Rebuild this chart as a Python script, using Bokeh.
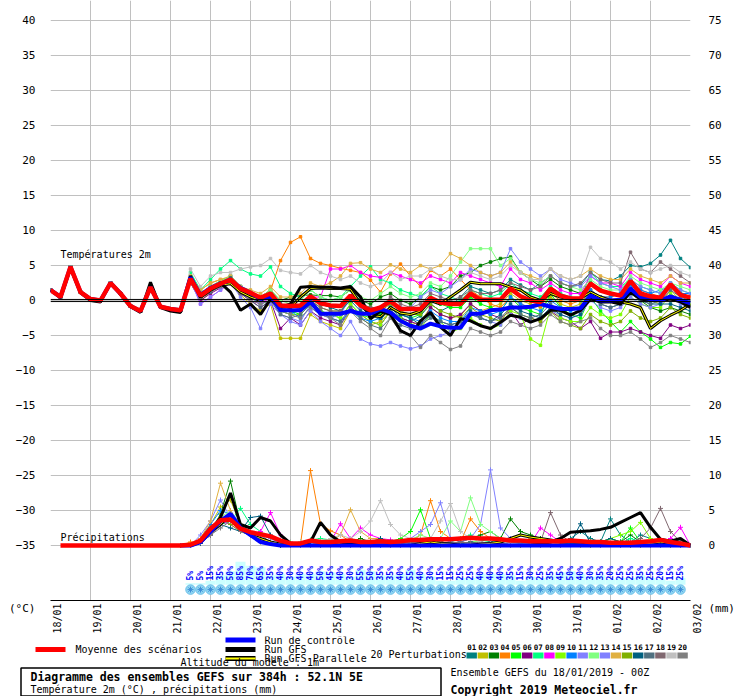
import math
from bokeh.plotting import figure
from bokeh.models import Range1d, LinearAxis, FixedTicker, Span, Label
from bokeh.embed import file_html
from bokeh.resources import INLINE
from bokeh.core.properties import value

FONT = "DejaVu Sans Mono"

# ---------------- data ----------------
DATES = ["18/01", "19/01", "20/01", "21/01", "22/01", "23/01", "24/01", "25/01", "26/01",
         "27/01", "28/01", "29/01", "30/01", "31/01", "01/02", "02/02", "03/02"]
DAY_HOURS = list(range(0, 385, 24))
HOURS = list(range(0, 385, 6))          # 65 six-hourly steps (0h .. 384h)
HOURS_P = HOURS[13:]                    # precipitation members from step 13
HOURS_PCT = HOURS[14:64]                # precipitation probability labels

LEFT_TICKS = list(range(-35, 45, 5))
RIGHT_TICKS = list(range(0, 80, 5))

# temperature, common start (steps 0..13)
T_COMMON = [1.5, 0.5, 4.8, 1.2, 0.2, 0.0, 2.5, 1.0, -0.8, -1.5, 1.9, -0.9, -1.2, -1.4]
T_GFS_START = [1.5, 0.4, 4.6, 1.1, 0.0, -0.2, 2.5, 0.9, -0.9, -1.7, 2.6, -1.0, -1.5, -1.7]

# temperature steps 14..64
T_M01 = [3.5,1.0,2.0,2.6, 3.2,1.5,0.5,-0.5, 0.5,-1.5,-2.0,-1.0, 0.2,-1.5,-2.5,-1.8, 0.5,-1.0,-2.0,-2.8, -1.0,-2.5,-3.0,-2.2, -0.5,-1.5,-0.8,0.5, 2.0,1.5,1.0,1.5, 3.0,2.2,1.5,2.5, 3.5,2.5,2.0,2.2, 4.0,3.0,2.8,3.5, 5.0,4.8,5.3,6.5, 8.6,6.0,4.7]
T_M02 = [2.5,0.0,1.2,2.0, 2.5,0.8,-0.5,-1.5, -0.5,-5.4,-5.4,-5.4, -2.0,-3.0,-3.5,-4.0, -1.5,-2.5,-3.5,-3.0, -1.5,-2.8,-3.5,-3.0, -1.0,-2.0,-2.5,-2.2, -0.5,-1.5,-1.0,-0.5, 1.0,0.0,-0.5,-1.0, 0.5,-0.5,-1.0,-0.5, 1.5,0.5,0.0,-0.5, 1.5,0.5,0.0,-0.5, 1.5,0.0,-1.0]
T_M03 = [3.3,1.0,2.0,2.8, 3.5,2.0,1.0,0.5, 1.5,0.0,0.5,0.7, 0.8,0.7,0.7,0.5, 1.5,0.0,-0.5,0.5, 1.0,0.0,-0.5,0.5, 2.0,1.5,2.0,3.5, 4.0,5.0,5.5,6.0, 6.2,4.0,3.0,2.0, 3.0,2.0,1.5,1.0, 2.5,1.5,1.0,0.8, 2.0,0.0,-1.0,-1.5, -1.0,-1.5,-2.0]
T_M04 = [3.5,1.5,2.5,3.0, 3.2,1.5,0.8,0.2, 1.4,5.7,8.3,9.1, 6.0,5.3,5.0,4.6, 4.3,4.0,2.9,1.2, 3.8,5.2,3.5,2.0, 4.3,3.5,4.5,3.0, 1.5,0.5,-0.5,-1.0, 0.5,-0.5,-1.0,-0.8, 1.0,0.0,-0.5,0.0, 1.5,0.5,0.5,1.0, 2.5,1.5,1.0,0.5, 2.0,1.0,0.5]
T_M05 = [2.8,0.5,1.5,2.0, 2.5,1.0,0.5,-0.5, 0.0,-1.5,-1.5,-2.0, -0.5,-1.5,-2.0,-2.5, -0.5,-2.0,-2.5,-2.0, -1.0,-2.0,-2.5,-2.0, 0.5,-0.5,-1.0,-1.0, 0.5,-0.5,-1.0,-1.5, 0.5,-1.0,-1.5,-2.0, 1.0,-1.0,-2.0,-2.5, 0.5,-1.5,-3.0,-4.5, -3.0,-4.5,-5.5,-6.7, -6.0,-6.2,-5.1]
T_M06 = [2.5,0.0,1.0,1.8, 2.8,1.0,0.0,-1.0, 0.0,-4.0,-2.5,-3.5, -1.5,-2.5,-3.0,-3.5, -1.0,-2.0,-3.0,-3.5, -1.5,-2.5,-3.0,-3.5, -1.0,-2.0,-2.5,-2.0, -0.5,-1.5,-2.0,-2.5, -1.5,-3.5,-2.5,-3.0, -1.5,-2.5,-3.0,-4.0, -3.0,-5.4,-4.5,-4.5, -4.0,-4.5,-5.0,-5.4, -3.5,-4.0,-3.5]
T_M07 = [4.0,1.5,3.0,4.5, 5.7,4.5,3.8,3.5, 4.8,2.0,1.0,0.5, 1.5,0.5,0.0,0.5, 2.0,3.5,4.8,3.0, 2.5,1.5,1.0,0.5, 2.0,1.0,0.5,0.0, 1.5,1.0,0.5,1.0, 2.5,1.5,1.0,0.5, 2.0,1.0,0.5,0.0, 4.0,2.5,2.0,2.0, 3.0,2.0,1.5,1.0, 2.5,1.5,1.0]
T_M08 = [3.0,-0.5,0.5,1.5, 2.5,1.0,0.0,-0.5, 0.5,-1.0,-1.5,-1.0, 0.5,0.5,4.5,4.5, 5.0,4.0,3.5,3.3, 4.0,3.5,3.0,2.5, 3.5,3.0,2.5,4.0, 3.5,3.0,2.5,2.0, 4.5,3.0,2.5,1.5, 2.5,1.5,1.0,1.0, 3.5,2.5,2.5,2.0, 4.0,3.0,2.5,2.0, 3.5,2.5,2.0]
T_M09 = [3.0,0.8,1.8,2.5, 3.0,1.5,0.5,0.0, 0.5,-1.5,-2.0,-2.0, -0.5,-1.5,-2.0,-2.5, -0.5,-2.0,-3.0,-3.5, -1.5,-2.5,-3.5,-4.0, -2.0,-3.0,-4.5,-4.0, -2.5,-3.5,-4.0,-3.5, -1.5,-2.0,-5.5,-6.4, -1.0,-2.5,-3.0,-3.0, -1.0,-2.0,-2.5,-2.0, 0.5,-0.5,-1.0,-1.0, 1.0,0.0,-0.5]
T_M10 = [3.3,0.5,1.5,2.5, 3.5,2.0,1.0,0.0, 0.5,-1.0,-1.5,-2.5, -1.0,-2.0,-2.5,-3.0, -1.5,-2.5,-3.0,-2.5, -1.0,-2.0,-2.5,-3.0, -1.5,-2.5,-3.0,-3.0, -1.0,-1.5,-2.0,-1.5, 0.5,-0.5,-1.0,-1.5, 0.0,-1.0,-1.5,-1.0, 1.5,0.5,0.5,1.0, 2.0,1.5,1.0,1.5, 2.0,1.0,1.0]
T_M11 = [2.8,-0.5,0.5,1.5, 2.5,0.5,-1.0,-4.0, -0.5,-2.0,-3.0,-3.5, -1.5,-3.0,-4.0,-5.0, -3.0,-5.5,-6.2,-6.5, -6.0,-6.5,-6.9,-6.5, -5.5,-5.0,-4.5,-3.5, -2.0,-2.5,-3.0,-3.5, -2.0,-2.5,-3.0,-2.5, -1.5,-2.0,-2.5,-2.0, 0.0,-1.0,-1.5,-1.0, 0.5,-0.5,-1.0,-0.5, 0.5,-0.5,-1.0]
T_M12 = [3.5,1.0,2.0,2.8, 3.5,2.0,1.0,0.5, 1.5,0.0,-0.5,0.0, 1.5,0.5,0.0,0.5, 1.5,0.5,0.0,1.0, 2.0,1.0,0.5,1.0, 2.5,2.0,3.5,5.5, 7.4,7.4,7.4,5.0, 6.0,4.0,3.0,2.5, 3.5,2.5,2.0,1.5, 3.0,2.0,1.5,1.5, 3.5,2.5,2.0,1.5, 2.5,2.0,1.5]
T_M13 = [3.0,0.5,1.5,2.0, 3.0,1.5,0.5,-0.5, 0.0,-2.0,-2.5,-3.0, -0.5,-2.0,-2.5,-2.0, 0.5,-1.0,-1.5,-1.0, 0.0,-1.0,-1.0,0.5, 1.5,1.0,2.0,3.0, 4.5,4.0,3.5,4.0, 7.4,5.5,4.5,3.5, 4.5,3.0,2.5,2.0, 3.5,2.5,2.0,1.5, 3.0,2.0,1.5,1.0, 2.5,1.5,1.0]
T_M14 = [3.5,1.5,2.5,3.0, 3.5,2.0,1.5,1.0, 2.0,0.5,0.5,1.0, 2.5,2.0,2.5,3.5, 5.3,5.4,4.5,4.0, 5.1,4.5,4.0,5.0, 4.5,5.0,6.7,6.0, 5.0,4.0,3.5,4.0, 5.5,4.0,3.5,3.0, 4.5,3.5,3.0,3.5, 4.5,3.5,3.0,3.0, 4.5,3.5,3.0,2.5, 3.5,2.5,2.5]
T_M15 = [3.0,0.5,1.5,2.2, 3.0,1.5,0.5,0.0, 0.5,-1.0,-1.5,-1.5, 0.0,-1.0,-1.5,-1.5, 0.5,-0.5,-1.0,-1.5, -0.5,-1.5,-2.0,-2.0, -0.5,-1.5,-2.0,-2.5, -1.0,-2.0,-2.5,-3.0, -1.0,-2.0,-2.5,-3.0, -1.5,-3.0,-3.5,-4.0, -2.0,-3.0,-3.5,-3.0, -1.5,-2.5,-3.0,-2.5, -1.0,-2.0,-2.5]
T_M16 = [3.2,0.8,1.8,2.5, 3.2,1.5,0.5,0.0, 1.0,-0.5,-1.0,-1.0, 0.5,-0.5,-1.0,-1.5, 0.0,-1.5,-2.0,-2.5, -1.0,-2.0,-2.5,-3.5, -2.0,-3.0,-3.5,-3.0, -1.5,-2.5,-3.0,-2.0, -0.5,-1.5,-2.0,-2.5, -1.0,-2.0,-2.5,-2.0, 0.5,-0.5,-1.0,-0.5, 1.0,0.0,-0.5,-0.5, -0.5,-1.0,-1.5]
T_M17 = [2.8,0.3,1.2,2.0, 2.8,1.0,0.0,-1.0, 0.0,-2.0,-2.5,-2.0, -0.5,-1.5,-2.5,-3.0, -1.0,-2.5,-3.5,-4.0, -2.5,-3.5,-4.0,-3.5, -2.5,-3.0,-3.5,-3.0, -2.0,-2.5,-3.0,-2.5, -1.0,-2.0,-2.5,-2.0, -0.5,-1.5,-2.0,-1.5, 0.5,-0.5,-1.0,-0.5, 1.0,0.0,-0.5,0.0, 1.5,0.5,0.0]
T_M18 = [3.0,0.5,1.5,2.0, 3.0,1.0,0.5,0.0, 0.5,-1.0,-1.5,-1.5, 0.0,-1.0,-1.5,-1.5, 0.5,-0.5,-1.0,-1.0, 0.5,-0.5,-1.0,-0.5, 1.0,0.5,0.0,0.5, 1.5,1.0,1.0,1.5, 2.5,2.0,1.5,2.0, 3.5,2.5,2.0,2.5, 4.0,3.0,2.5,2.5, 6.9,4.5,4.0,5.5, 4.5,3.5,2.5]
T_M19 = [4.5,2.0,3.5,4.0, 4.0,4.5,4.8,5.0, 6.0,4.3,4.0,3.8, 5.0,4.0,3.5,3.0, 3.5,2.5,2.0,2.5, 4.0,3.0,3.5,3.5, 4.5,3.5,3.0,3.0, 4.0,3.5,3.0,3.5, 5.0,4.0,3.0,3.0, 4.5,3.5,3.0,3.5, 7.6,6.0,5.5,4.5, 5.5,4.5,4.0,4.5, 5.0,4.0,3.5]
T_M20 = [3.0,0.5,1.5,2.2, 2.8,1.2,0.0,-0.5, 0.0,-1.5,-2.0,-2.5, -1.0,-2.0,-2.5,-3.5, -1.5,-3.0,-4.0,-5.0, -2.5,-4.5,-5.0,-6.7, -5.0,-6.0,-7.0,-6.5, -4.0,-4.5,-5.0,-4.5, -3.0,-3.5,-4.0,-3.5, -2.0,-3.0,-3.5,-3.0, -2.5,-4.0,-5.0,-5.0, -4.5,-5.5,-6.7,-6.0, -5.0,-5.5,-6.0]

T_CTRL = [3.3,0.8,1.8,2.4, 2.9,1.8,1.1,0.2, 0.7,-1.4,-1.4,-1.4, -0.2,-1.9,-1.9,-1.9, -1.5,-1.9,-1.9,-1.2, -1.7,-2.9,-3.6,-4.0, -3.3,-3.7,-3.9,-3.9, -1.9,-1.9,-1.4,-1.3, -1.0,-1.0,-0.9,-0.5, -0.9,-1.2,-1.2,-1.1, 0.7,0.0,0.0,0.1, 1.7,0.5,0.2,0.0, 0.6,0.1,-0.4]
T_GFS = [3.5,0.5,1.5,2.5, 1.2,-1.4,-0.5,-2.0, 0.2,-1.0,-0.5,1.9, 2.0,1.9,1.9,1.8, 2.0,0.5,-2.6,-1.5, -2.0,-4.3,-5.0,-2.9, -1.7,-3.8,-5.0,-2.6, -2.9,-3.6,-4.0,-3.1, -2.1,-2.4,-3.1,-2.6, -1.4,-1.4,-2.1,-1.4, 0.2,-0.2,-0.2,-0.5, 1.2,0.2,0.0,0.0, 0.2,-0.2,-1.0]
T_PARA = [3.2,0.5,1.5,2.2, 2.4,1.2,0.5,0.0, 0.8,-0.8,-1.0,0.5, 1.7,1.8,1.7,1.7, 1.6,-0.5,-2.1,-2.3, -1.0,-1.8,-2.0,-1.5, 0.0,-0.5,0.5,1.5, 2.6,2.4,2.4,2.4, 1.9,1.5,0.5,0.0, 1.0,0.5,0.2,0.3, 1.2,0.5,0.0,-0.2, -0.5,-1.0,-4.0,-2.9, -2.1,-1.4,-0.5]
T_MEAN = [3.1,0.7,1.7,2.4, 3.0,1.7,1.1,0.4, 1.0,-0.7,-0.8,-0.7, 0.6,-0.4,-0.7,-0.8, 0.7,-0.7,-1.4,-1.0, -0.1,-1.2,-1.2,-1.2, 0.4,-0.3,-0.5,-0.5, 1.0,0.1,0.1,0.1, 1.7,0.6,0.0,-0.2, 1.7,0.7,0.3,0.3, 2.4,1.4,1.0,0.7, 2.8,1.0,0.6,0.4, 2.3,0.8,0.4]

# precipitation (mm / 6h), steps 13..64
P_M01 = [0,0,0.5,2.0,3.5,4.0,2.0,1.5,1.0,0.5, 0.3,0,0,0.2,0.3,0,0,0,0.3,0, 0.5,0.3,0,0.2,0.5,1.0,0.5,0.2,0,0.5, 0.3,0.2,0,0.3,0.5,0.2,0,0.3,0.5,1.0, 2.0,1.0,0.5,3.8,1.5,0.5,1.5,1.0,0.5,0.3, 0.2,0]
P_M02 = [0,0,1.0,3.0,5.5,6.5,3.0,2.0,1.0,0.5, 0.2,0,0,0,0,0.2,0,0,0,0, 0,0,0,0,0,0.2,0.5,0.3,0,0, 0,0.2,0,0,0.2,0,0,0,0,0, 0,0,0,0.2,0,0,0,0.5,0.3,0.2, 0,0]
P_M03 = [0,0,0.5,2.0,4.5,9.2,3.0,1.5,1.0,0.5, 0,0.3,0,0.5,0.2,0.3,0.5,0.5,1.0,0.5, 0.3,0.5,0.2,0.5,0.8,1.0,0.5,0.3,0.5,1.0, 1.5,2.0,1.0,3.8,2.0,1.5,1.0,0.5,0.5,0.3, 0.5,0.2,0.5,1.0,0.5,1.5,0.5,0.3,0.2,0.3, 0.2,0]
P_M04 = [0,0.5,0.3,1.5,3.0,4.5,3.0,2.0,1.0,0.5, 0.2,0,0.2,10.7,3.1,2.1,1.5,0.5,0.3,0.5, 0.5,0.3,0.5,0.5,1.5,6.4,2.0,1.0,0.5,3.8, 2.0,1.0,1.0,0.5,0.5,1.0,0.5,0.3,0.2,0.5, 0.3,0.5,0.3,0.5,0.2,0,0.3,0,0.2,0, 0,0]
P_M05 = [0,0,0.5,2.5,4.0,3.5,2.0,1.5,1.0,0.5, 0.2,0,0,0.3,0.2,0,0.5,0.3,0.2,0, 0.2,0.5,1.0,2.0,5.1,1.0,0.5,0.3,0.2,0.5, 0.5,0.3,0.2,0.5,0.3,0.2,0.3,0.5,0.5,0.3, 0.5,0.3,0.2,1.0,0.5,2.5,0.5,0.3,0.2,0.2, 0,0]
P_M06 = [0,0,0.3,1.5,3.0,3.5,2.5,1.5,1.0,0.5, 0.2,0,0,0,0,0,0.2,0,0,0, 0,0,0,0.3,0.5,0.3,0.2,0,0,0.2, 0.5,0.3,0.2,0.5,0.3,1.0,0.5,0.2,0,0, 0.3,0.2,0,0.5,0.3,0.2,0.3,0.5,0.2,0, 0,0]
P_M07 = [0,0,0.5,2.0,3.0,3.5,5.3,3.0,2.0,1.0, 0.5,0.3,0.5,0.8,1.0,0.8,0.5,0.5,0.3,0.5, 0.3,0.2,0.3,0.5,0.5,0.3,0.2,0.5,1.0,1.5, 0.8,0.5,0.5,0.3,0.5,0.3,0.5,0.3,0.2,0.3, 0.5,0.3,0.2,0.5,0.3,1.0,0.5,0.3,0.2,0.2, 0.2,0]
P_M08 = [0,0,0.3,1.5,3.5,3.0,2.0,1.5,2.0,4.7, 1.5,0.5,0.3,0.2,0.3,0.5,3.1,1.0,2.5,1.5, 1.0,0.8,0.5,0.3,0.2,0.5,0.3,0.2,0.5,0.3, 0.2,0.3,0.5,0.3,0.5,0.3,2.5,1.5,0.5,0.3, 0.5,0.3,0.2,0.5,0.3,0.2,0.5,0.3,0.5,1.0, 2.6,0]
P_M09 = [0,0,0.5,2.0,3.5,4.0,2.5,1.5,1.0,0.5, 0.3,0,0,0.2,0,0,0,0.2,0,0, 0,0.2,0.3,0.5,0.2,0.3,0.5,0.3,0.2,0.5, 0.3,0.2,0.5,0.3,0.2,0.5,0.3,0.5,0.3,0.3, 0.3,0.5,0.5,1.0,1.5,2.0,3.3,1.0,0.5,0.3, 0.2,0]
P_M10 = [0,0,1.0,3.0,5.0,4.5,2.5,2.0,1.0,0.5, 0.2,0,0,0,0.2,0,0,0,0,0.2, 0,0,0.2,0,0,0.3,0.2,0,0,0.2, 0.3,0,0,0.2,0,0,0.2,0,0,0.3, 0.2,0,0,0.2,0.3,0,0,0.2,0,0, 0,0]
P_M11 = [0,0,1.5,3.5,6.5,4.0,2.5,1.5,1.0,0.5, 0.3,0,0,0,0,0.2,0,0,0.3,0.5, 0.5,0.3,0.5,1.0,2.0,3.0,6.1,1.0,0.5,1.0, 3.0,10.8,2.5,1.0,0.5,0.3,0.2,0.5,0.3,0.2, 0.5,0.3,0.2,0.5,0.3,0.2,0.5,0.3,0.2,0, 0,0]
P_M12 = [0,0,0.5,2.0,4.0,5.0,3.0,2.0,1.0,0.5, 0.3,0.5,0.2,0.3,0.5,0.8,0.5,0.3,0.5,0.3, 0.5,0.3,0.5,0.8,1.5,1.0,1.0,3.5,2.0,6.8, 3.0,2.0,1.0,0.5,0.3,0.5,0.3,0.2,0.5,0.3, 0.5,0.3,0.2,0.5,0.3,0.2,0.5,0.3,0.2,0.5, 0.3,0]
P_M13 = [0,0,0.5,2.0,3.0,5.0,3.0,2.0,1.5,1.0, 0.3,0,0,0.2,0,0,0,0.2,0.3,0.2, 0.3,0.5,0.2,0.5,0.3,0.5,1.0,0.5,0.3,0.5, 0.2,0.3,0.5,0.3,0.2,0.3,0.5,0.2,0,0, 0.2,0.3,0,0.2,0.5,0.3,0.2,0,0,0, 0,0]
P_M14 = [0,0,1.0,3.5,8.9,5.0,2.5,1.5,1.0,0.5, 0.2,0,0,0.3,0.5,0.5,1.5,5.1,2.0,1.0, 1.0,0.5,0.3,0.2,0.5,0.3,0.5,0.3,0.2,0.5, 0.3,0.5,0.3,0.2,0.5,1.0,0.5,0.3,0.2,0.3, 0.2,0,0.3,0.2,0,0.3,0.2,0,0.3,0.2, 0,0]
P_M15 = [0,0,0.5,2.5,4.0,3.0,2.0,1.5,0.5,0.3, 0.2,0,0,0,0,0,0,0.2,0,0, 0.2,0,0,0.2,0,0.3,0,0,0.2,0, 0,0.3,0.2,0,0,0.2,0.3,0,0,0.2, 0.3,0,0.2,0.5,0.3,0,0,0.2,0,0, 0,0]
P_M16 = [0,0,0.3,1.5,3.0,2.5,2.0,4.0,4.2,1.5, 0.5,0.3,0,0.2,0.3,0.5,0.3,0.2,0.3,0.5, 1.0,0.5,0.3,0.5,0.3,0.2,0.5,0.3,0.2,0.5, 0.3,0.5,0.3,0.2,0.5,0.3,0.2,0.5,0.5,0.3, 3.1,0.3,0.5,1.0,0.5,0.3,0.2,0.5,0.3,0.2, 0,0]
P_M17 = [0,0,0.5,2.0,3.5,4.5,2.5,1.5,1.0,0.5, 0.3,0,0,0.2,0,0.2,0,0,0.2,0, 0.3,0.2,0,0.3,0.5,0.3,0.2,0.3,0.5,0.3, 0.2,0.5,0.3,0.2,0.3,0.5,0.3,0.2,0.5,0.3, 0.5,0.3,0.2,0.5,0.3,0.2,0.3,0.2,0.5,0.3, 0.2,0]
P_M18 = [0,0,0.5,1.5,3.0,4.0,3.0,2.0,1.5,0.5, 0.3,0,0,0.2,0.3,0,0.2,0,0,0.3, 0.2,0.5,0.3,0.5,0.3,0.2,0.5,0.3,0.5,0.3, 0.5,0.3,0.2,0.5,0.3,0.5,0.5,4.7,1.5,0.5, 0.3,0.5,0.3,0.5,0.2,0.5,1.0,2.5,5.3,2.0, 0.5,0]
P_M19 = [0,0,0.5,2.0,3.0,4.0,2.5,2.0,1.0,0.5, 0.3,0.2,0.5,0.3,0.5,1.0,1.5,1.0,2.0,3.5, 6.4,3.0,1.5,1.0,0.5,1.0,3.5,6.0,2.0,1.0, 0.5,0.3,0.5,0.3,0.2,0.5,0.3,0.2,0.5,0.3, 0.5,0.2,0.3,0.5,0.2,0.3,0.2,0.5,0.3,0.2, 0,0]
P_M20 = [0,0,0.5,1.5,2.5,3.5,2.0,1.5,1.0,0.5, 0.2,0,0,0,0.2,0,0,0,0,0, 0.2,0,0,0.2,0,0,0.3,0.2,0,0, 0,0.2,0,0,0.3,0.2,0,0,0,0.2, 0.3,0.2,0,0.2,0,0.3,0.2,0,0,0.2, 0,0]

P_CTRL = [0,0,0.5,2.0,3.5,4.5,2.5,1.5,0.5,0.2, 0,0,0,0,0,0,0,0,0,0, 0,0,0,0,0,0,0,0,0,0, 0,0,0,0,0,0,0,0,0,0, 0,0,0,0,0,0,0,0,0,0, 0,0]
P_GFS = [0,0,0.5,2.0,4.0,7.5,3.0,2.5,4.0,3.5, 1.5,0.3,0.2,0.5,3.3,1.5,0.5,0.2,0,0, 0,0,0,0,0,0,0,0,0,0, 0,0,0,0,0,0,0.2,0.5,1.0,1.9, 2.0,2.1,2.3,2.6,3.3,4.0,4.7,2.6,0.9,0.6, 1.0,0]
P_PARA = [0,0,0.5,2.0,3.0,4.5,2.5,1.5,1.0,0.5, 0.2,0,0,0,0,0.5,0.3,0.2,0,0, 0,0,0,0,0.3,0.5,0.3,0.2,0,0, 0.2,0.3,0.5,1.0,1.5,1.2,1.0,0.8,0.5,0.5, 0.5,0.3,0.2,0,0,0,0.2,0.3,0.5,0.3, 0,0]
# ensemble mean precipitation, steps 1..64
P_MEAN = [0,0,0,0,0,0,0,0,0,0,0,0,
          0,0.1,0.7,2.4,3.6,3.7,2.4,1.9,1.6,1.3, 0.7,0.3,0.3,0.7,0.5,0.5,0.6,0.7,0.5,0.5,
          0.6,0.5,0.6,0.8,0.8,0.9,0.9,0.9,1.0,1.1, 1.0,1.0,0.9,0.7,0.7,0.6,0.6,0.6,0.6,0.7,
          0.6,0.5,0.5,0.4,0.4,0.4,0.5,0.6,0.8,0.5, 0.3,0.0]

# probability of precipitation (%)
PCT = [5, 5, 15, 35, 50, 85, 70, 65, 35, 40, 30, 40, 40, 50, 45, 40, 30, 55, 50, 35,
       35, 40, 55, 40, 30, 15, 15, 25, 25, 40, 40, 40, 35, 15, 30, 25, 35, 45, 50, 40,
       30, 35, 20, 25, 25, 35, 25, 20, 15, 25]

MEMBER_IDS = ["01", "02", "03", "04", "05", "06", "07", "08", "09", "10",
              "11", "12", "13", "14", "15", "16", "17", "18", "19", "20"]
MEMBER_COLORS = ["#008080", "#c0c000", "#008000", "#ff8000", "#00ff00", "#800080", "#00ff80",
                 "#ff00ff", "#80ff00", "#0080ff", "#8080ff", "#80ff80", "#8080ff", "#e0b040",
                 "#80b000", "#006080", "#507080", "#806870", "#c0c0c0", "#808080"]
T_MEMBERS = [T_M01, T_M02, T_M03, T_M04, T_M05, T_M06, T_M07, T_M08, T_M09, T_M10,
             T_M11, T_M12, T_M13, T_M14, T_M15, T_M16, T_M17, T_M18, T_M19, T_M20]
P_MEMBERS = [P_M01, P_M02, P_M03, P_M04, P_M05, P_M06, P_M07, P_M08, P_M09, P_M10,
             P_M11, P_M12, P_M13, P_M14, P_M15, P_M16, P_M17, P_M18, P_M19, P_M20]

# ---------------- main chart ----------------
Y0, Y1 = -300 / 7, 300 / 7
p = figure(frame_width=640, frame_height=600, x_range=Range1d(0, 384), y_range=Range1d(Y0, Y1),
           output_backend="svg", toolbar_location=None,
           min_border_left=50, min_border_right=46, min_border_top=0, min_border_bottom=34,
           background_fill_color="white", border_fill_color="white", outline_line_color=None)
p.extra_y_ranges = {"mm": Range1d(Y0 + 35, Y1 + 35)}

grid_color = "#c0c0c0"
p.xgrid.ticker = FixedTicker(ticks=DAY_HOURS)
p.xgrid.grid_line_color = grid_color
p.ygrid.ticker = FixedTicker(ticks=LEFT_TICKS)
p.ygrid.grid_line_color = grid_color

xa = p.xaxis[0]
xa.ticker = FixedTicker(ticks=DAY_HOURS)
xa.major_label_overrides = {h: "\n" + d for h, d in zip(DAY_HOURS, DATES)}
xa.major_label_orientation = math.pi / 2
xa.major_tick_line_color = None
xa.minor_tick_line_color = None
xa.major_tick_out = 0
xa.major_tick_in = 0
xa.minor_tick_out = 0
xa.axis_line_color = "black"
xa.major_label_standoff = 3
xa.major_label_text_font = FONT
xa.major_label_text_font_size = "10px"
xa.major_label_text_color = "black"

# left axis: temperatures, with the unit caption at the bottom edge
ya = p.yaxis[0]
ya.ticker = FixedTicker(ticks=LEFT_TICKS + [Y0])
ya.major_label_overrides = {Y0: "\n(°C)"}
ya.axis_line_color = None
ya.major_tick_line_color = None
ya.minor_tick_line_color = None
ya.major_tick_out = 0
ya.major_label_standoff = 15
ya.major_label_text_font = FONT
ya.major_label_text_font_size = "11px"
ya.major_label_text_color = "black"

# right axis: precipitation (mm)
ra = LinearAxis(y_range_name="mm", ticker=FixedTicker(ticks=RIGHT_TICKS + [Y0 + 35]))
ra.major_label_overrides = {Y0 + 35: "\n(mm)"}
ra.axis_line_color = None
ra.major_tick_line_color = None
ra.minor_tick_line_color = None
ra.major_tick_out = 0
ra.major_label_standoff = 18
ra.major_label_text_font = FONT
ra.major_label_text_font_size = "11px"
ra.major_label_text_color = "black"
p.add_layout(ra, "right")

# precipitation probability strip
tops = [-40.6 + v * 0.0386 for v in PCT]
p.vbar(x=HOURS_PCT, width=6, bottom=-40.6, top=tops, fill_color="#ccffff", line_color=None)
p.scatter(x=HOURS_PCT, y=-41.3, marker="circle", size=9.5, fill_color="#8fd6f2", line_color="#6cc0ea")
p.scatter(x=HOURS_PCT, y=-41.3, marker="asterisk", size=6, line_color="#3f8fd8", line_width=1)
p.text(x=HOURS_PCT, y=-40.0, text=[f"{v}%" for v in PCT], angle=math.pi / 2,
       text_align="left", text_baseline="middle", text_color="#0000ff",
       text_font=value(FONT), text_font_size="8px", text_font_style="bold")

# zero line (double)
p.add_layout(Span(location=0.15, dimension="width", line_color="black", line_width=1))
p.add_layout(Span(location=-0.15, dimension="width", line_color="black", line_width=1))

# members
for k in range(20):
    c = MEMBER_COLORS[k]
    t = T_COMMON + T_MEMBERS[k]
    p.line(HOURS, t, line_color=c, line_width=1)
    p.scatter(HOURS, t, marker="square", size=2.5, fill_color=c, line_color=c)
    p.line(HOURS_P, P_MEMBERS[k], y_range_name="mm", line_color=c, line_width=1)
    p.scatter(HOURS_P, P_MEMBERS[k], y_range_name="mm", marker="cross", size=5, line_color=c)

# GFS parallel
t_para = T_COMMON + T_PARA
p.line(HOURS, t_para, line_color="black", line_width=3)
p.line(HOURS, t_para, line_color="#ffff00", line_width=1)
p.line(HOURS_P, P_PARA, y_range_name="mm", line_color="black", line_width=3)
p.line(HOURS_P, P_PARA, y_range_name="mm", line_color="#ffff00", line_width=1)
# GFS
p.line(HOURS, T_GFS_START + T_GFS, line_color="black", line_width=3)
p.line(HOURS_P, P_GFS, y_range_name="mm", line_color="black", line_width=3)
# control
p.line(HOURS, T_COMMON + T_CTRL, line_color="#0000ff", line_width=4)
p.line(HOURS_P, P_CTRL, y_range_name="mm", line_color="#0000ff", line_width=4)
# ensemble mean
p.line(HOURS, T_COMMON + T_MEAN, line_color="#ff0000", line_width=4.5)
p.line(HOURS[1:], P_MEAN, y_range_name="mm", line_color="#ff0000", line_width=4.5)

p.add_layout(Label(x=6, y=6.6, text="Températures 2m", text_font=FONT, text_font_size="10px",
                   text_baseline="middle", text_color="black"))
p.add_layout(Label(x=6, y=-33.9, text="Précipitations", text_font=FONT, text_font_size="10px",
                   text_baseline="middle", text_color="black"))

# ---------------- footer / legend (page pixel layout) ----------------
q = figure(width=736, height=60, x_range=Range1d(0, 736), y_range=Range1d(60, 0),
           output_backend="svg", toolbar_location=None, x_axis_type=None, y_axis_type=None,
           min_border=0, min_border_left=0, min_border_right=0, min_border_top=0,
           min_border_bottom=0, outline_line_color=None, background_fill_color="white",
           border_fill_color="white")
q.grid.visible = False

def txt(x, y, s, size="10px", bold=False, align="left"):
    q.text(x=[x], y=[y], text=[s], text_font=value(FONT), text_font_size=size,
           text_font_style="bold" if bold else "normal", text_align=align,
           text_baseline="middle", text_color="black")

q.segment(x0=[35], y0=[13], x1=[65], y1=[13], line_color="#ff0000", line_width=5)
txt(75, 13, "Moyenne des scénarios")
q.segment(x0=[225], y0=[3.5], x1=[255], y1=[3.5], line_color="#0000ff", line_width=5)
txt(264, 3.5, "Run de contrôle")
q.segment(x0=[225], y0=[13], x1=[255], y1=[13], line_color="black", line_width=5)
txt(264, 13, "Run GFS")
q.segment(x0=[225], y0=[22], x1=[255], y1=[22], line_color="black", line_width=5)
q.segment(x0=[225], y0=[22], x1=[255], y1=[22], line_color="#ffff00", line_width=2)
txt(264, 22, "Run GFS Parallele")
txt(180, 25.5, "Altitude du modèle : 1m")
txt(370, 18, "20 Perturbations")

sq_left = [466 + 11.1 * k for k in range(20)]
q.quad(left=sq_left, right=[v + 10.4 for v in sq_left], top=[16] * 20, bottom=[22] * 20,
       fill_color=MEMBER_COLORS, line_color=None)
q.text(x=[v + 5.2 for v in sq_left], y=[10] * 20, text=MEMBER_IDS, text_font=value(FONT),
       text_font_size="7.5px", text_font_style="bold", text_align="center",
       text_baseline="middle", text_color="black")

q.quad(left=[20.5], right=[440.5], top=[31.5], bottom=[59.5], fill_color=None, line_color="black",
       line_width=1.5)
txt(30, 40, "Diagramme des ensembles GEFS sur 384h : 52.1N 5E", size="11.5px", bold=True)
txt(30, 53, "Température 2m (°C) , précipitations (mm)")
txt(450, 36, "Ensemble GEFS du 18/01/2019 - 00Z")
txt(450, 53, "Copyright 2019 Meteociel.fr", size="11.5px", bold=True)

open("out.html", "w").write(file_html([p, q], INLINE))
